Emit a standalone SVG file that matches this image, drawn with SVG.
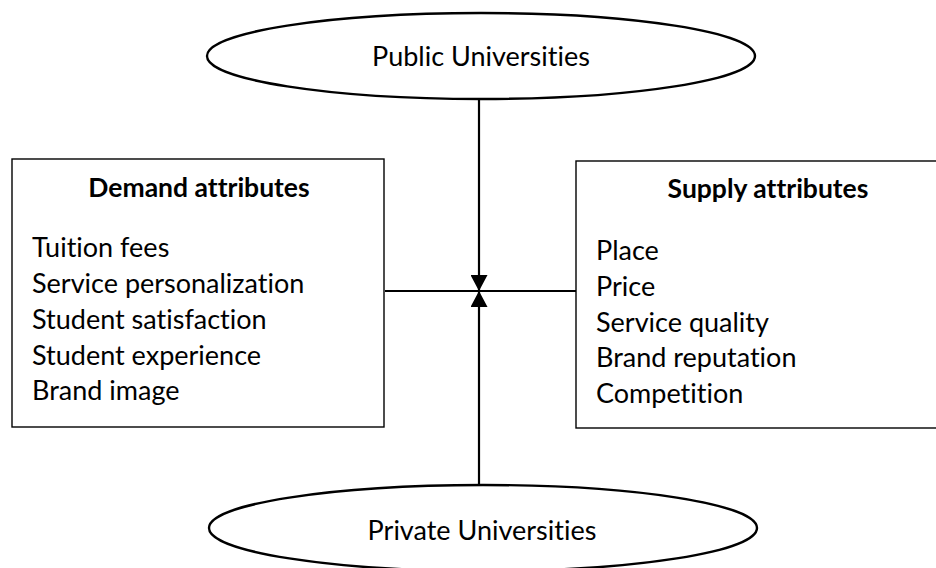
<svg xmlns="http://www.w3.org/2000/svg" width="936" height="568" viewBox="0 0 936 568">
<style>
.bg{fill:#fff}
.ell{fill:#fff;stroke:#000;stroke-width:2.4}
.box{fill:#fff;stroke:#000;stroke-width:1.4}
.conn{stroke:#000;stroke-width:2.2;fill:none}
.t{font-family:Lato,"Open Sans","Liberation Sans",sans-serif;fill:#000;font-variant-ligatures:none;font-feature-settings:"liga" 0,"clig" 0}
.lbl{font-size:27px}
.head{font-size:26.5px;font-weight:bold}
.item{font-size:27px}
</style>
<defs>
<marker id="arr" viewBox="0 0 16 17" refX="16" refY="8.5" markerWidth="16" markerHeight="17" markerUnits="userSpaceOnUse" orient="auto">
<path d="M0,0 L16,8.5 L0,17 Z" fill="#000"/>
</marker>
</defs>
<rect class="bg" width="936" height="568"/>
<g id="connectors">
<line class="conn" x1="385" y1="291" x2="576" y2="291"/>
<line class="conn" x1="479" y1="99" x2="479" y2="291" marker-end="url(#arr)"/>
<line class="conn" x1="479" y1="485" x2="479" y2="291" marker-end="url(#arr)"/>
</g>
<g id="public">
<ellipse class="ell" cx="481" cy="56" rx="274" ry="43"/>
<text class="t lbl" x="481" y="66" text-anchor="middle">Public Universities</text>
</g>
<g id="private">
<ellipse class="ell" cx="483" cy="528" rx="274" ry="43"/>
<text class="t lbl" x="482" y="540" text-anchor="middle">Private Universities</text>
</g>
<g id="demand">
<rect class="box" x="12" y="159" width="372" height="268"/>
<text class="t head" x="199" y="197" text-anchor="middle">Demand attributes</text>
<text class="t item" x="32" y="257">Tuition fees</text>
<text class="t item" x="32" y="293">Service personalization</text>
<text class="t item" x="32" y="329">Student satisfaction</text>
<text class="t item" x="32" y="365">Student experience</text>
<text class="t item" x="32" y="400">Brand image</text>
</g>
<g id="supply">
<rect class="box" x="576" y="161" width="384" height="267"/>
<text class="t head" x="768" y="198" text-anchor="middle">Supply attributes</text>
<text class="t item" x="596" y="260">Place</text>
<text class="t item" x="596" y="296">Price</text>
<text class="t item" x="596" y="332">Service quality</text>
<text class="t item" x="596" y="367">Brand reputation</text>
<text class="t item" x="596" y="403">Competition</text>
</g>
</svg>
